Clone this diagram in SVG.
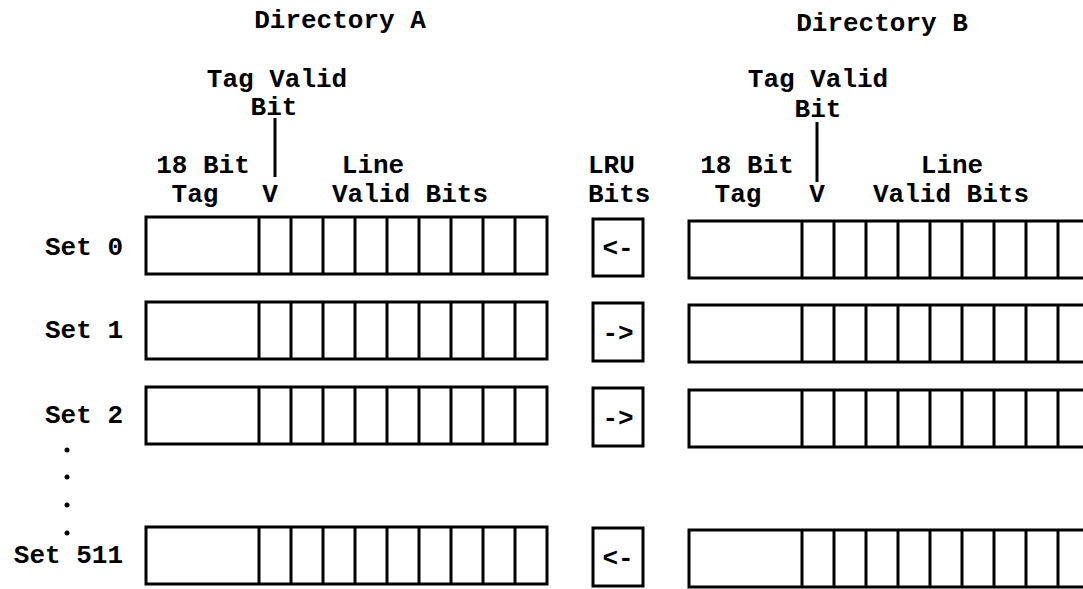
<svg xmlns="http://www.w3.org/2000/svg" xmlns:xlink="http://www.w3.org/1999/xlink" width="1083" height="589" viewBox="0 0 1083 589">
  <style>
    text { font-family: "Liberation Mono", "Courier New", monospace; font-weight: bold; font-size: 26px; fill: #000; }
    .mid { text-anchor: middle; }
    .end { text-anchor: end; }
    .box { fill: #fff; stroke: #000; stroke-width: 3; }
    .div { stroke: #000; stroke-width: 3; fill: none; }
    .conn { stroke: #000; stroke-width: 3; fill: none; }
  </style>
  <defs>
    <g id="dirRow">
      <rect class="box" x="0" y="0" width="401" height="57"/>
      <path class="div" d="M113 0V57 M145 0V57 M177 0V57 M209 0V57 M241 0V57 M273 0V57 M305 0V57 M337 0V57 M369 0V57"/>
    </g>
  </defs>
  <rect width="1083" height="589" fill="#fff"/>

  <g id="headers">
    <text class="mid" x="340" y="28">Directory A</text>
    <text class="mid" x="882" y="31">Directory B</text>
  </g>

  <g id="dirA-labels">
    <text class="mid" x="277" y="87">Tag Valid</text>
    <text class="mid" x="274" y="115">Bit</text>
    <text class="mid" x="203" y="173">18 Bit</text>
    <text class="mid" x="195" y="202">Tag</text>
    <text class="mid" x="270" y="202">V</text>
    <text class="mid" x="373" y="173">Line</text>
    <text class="mid" x="410" y="202">Valid Bits</text>
  </g>

  <g id="lru-labels">
    <text x="588" y="173">LRU</text>
    <text x="588" y="202">Bits</text>
  </g>

  <g id="dirB-labels">
    <text class="mid" x="818" y="87">Tag Valid</text>
    <text class="mid" x="818" y="117">Bit</text>
    <text class="mid" x="747" y="173">18 Bit</text>
    <text class="mid" x="738" y="202">Tag</text>
    <text class="mid" x="817" y="202">V</text>
    <text class="mid" x="952" y="173">Line</text>
    <text class="mid" x="951" y="202">Valid Bits</text>
  </g>

  <g id="set-labels">
    <text class="end" x="123" y="255">Set 0</text>
    <text class="end" x="123" y="338">Set 1</text>
    <text class="end" x="123" y="423">Set 2</text>
    <circle cx="67" cy="450" r="2.5"/>
    <circle cx="67" cy="477" r="2.5"/>
    <circle cx="67" cy="505" r="2.5"/>
    <circle cx="67" cy="533" r="2.5"/>
    <text class="end" x="123" y="563">Set 511</text>
  </g>

  <g id="dirA-set0"><use xlink:href="#dirRow" x="146" y="217"/></g>
  <g id="dirA-set1"><use xlink:href="#dirRow" x="146" y="302"/></g>
  <g id="dirA-set2"><use xlink:href="#dirRow" x="146" y="387"/></g>
  <g id="dirA-set511"><use xlink:href="#dirRow" x="146" y="527"/></g>

  <g id="lru-set0"><rect class="box" x="593" y="219" width="50" height="57"/><text class="mid" x="618" y="256">&lt;-</text></g>
  <g id="lru-set1"><rect class="box" x="593" y="303" width="50" height="58"/><text class="mid" x="618" y="341">-&gt;</text></g>
  <g id="lru-set2"><rect class="box" x="593" y="388" width="50" height="58"/><text class="mid" x="618" y="426">-&gt;</text></g>
  <g id="lru-set511"><rect class="box" x="593" y="528" width="50" height="58"/><text class="mid" x="618" y="566">&lt;-</text></g>

  <g id="dirB-set0"><use xlink:href="#dirRow" x="689" y="221"/></g>
  <g id="dirB-set1"><use xlink:href="#dirRow" x="689" y="305"/></g>
  <g id="dirB-set2"><use xlink:href="#dirRow" x="689" y="390"/></g>
  <g id="dirB-set511"><use xlink:href="#dirRow" x="689" y="530"/></g>

  <g id="connectors">
    <line class="conn" x1="275" y1="118" x2="275" y2="177"/>
    <line class="conn" x1="817" y1="122" x2="817" y2="182"/>
  </g>
</svg>
